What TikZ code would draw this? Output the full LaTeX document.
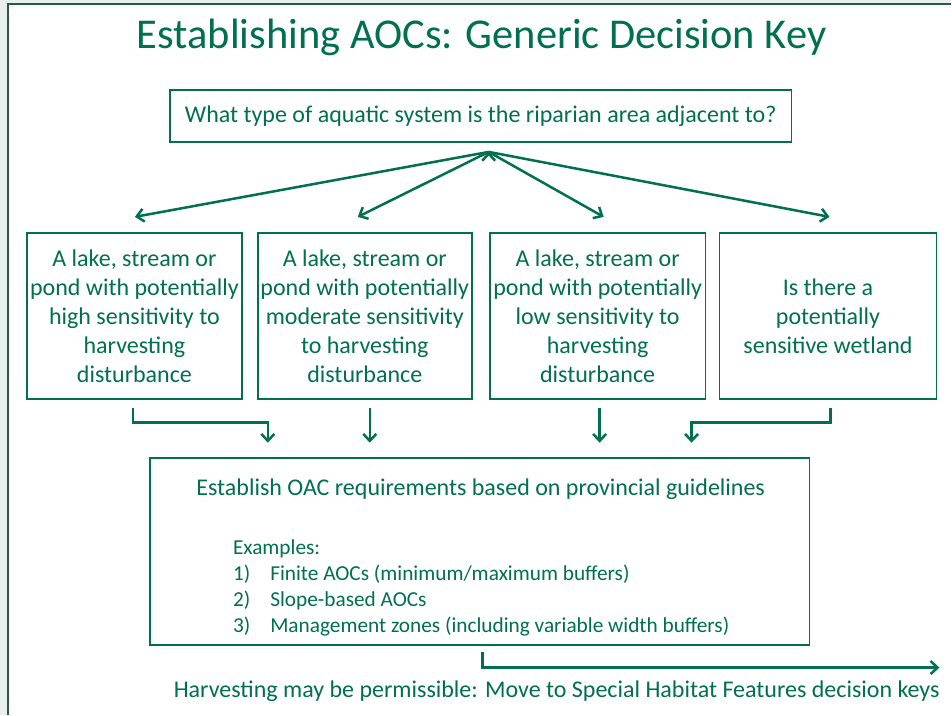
\documentclass[tikz,border=0pt]{standalone}
\usepackage{fontspec}
\setmainfont{Carlito}
\usetikzlibrary{arrows.meta}
\definecolor{aocgreen}{RGB}{0,112,80}
\definecolor{slidegrey}{RGB}{233,239,236}
\definecolor{framegreen}{RGB}{40,90,70}

\begin{document}
\begin{tikzpicture}[x=1pt,y=-1pt,
    box/.style={draw=aocgreen,line width=1.8pt,text=aocgreen,align=center,inner sep=0pt},
    choice/.style={box,minimum width=215pt,minimum height=166pt,font=\fontsize{24}{29}\selectfont},
    label/.style={text=aocgreen,inner sep=0pt},
    flow/.style={->,aocgreen,line width=2.5pt},
    >={Straight Barb[length=7pt,width=13pt]}]
  % slide background
  \fill[slidegrey] (0,0) rectangle (952,715);
  \fill[white] (8,4) rectangle (952,715);
  \draw[framegreen,line width=1.2pt] (8,715) -- (8,4) -- (952,4);
  \useasboundingbox (0,0) rectangle (952,715);

  \node[label,font=\fontsize{42.5}{50}\selectfont] (title) at (482,37) {Establishing AOCs: Generic Decision Key};

  \node[box,minimum width=622pt,minimum height=52pt,font=\fontsize{24}{28}\selectfont] (question) at (481,116) {What type of aquatic system is the riparian area adjacent to?};

  \node[choice] (high)    at (134.5,316) {A lake, stream or\\pond with potentially\\high sensitivity to\\harvesting\\disturbance};
  \node[choice,minimum width=214pt] (moderate) at (365,316) {A lake, stream or\\pond with potentially\\moderate sensitivity\\to harvesting\\disturbance};
  \node[choice,minimum width=216pt] (low)      at (598,316) {A lake, stream or\\pond with potentially\\low sensitivity to\\harvesting\\disturbance};
  \node[choice,minimum width=217pt] (wetland)  at (828.5,316) {Is there a\\potentially\\sensitive wetland};

  \node[box,minimum width=660pt,minimum height=187pt] (aoc) at (480,551.5) {};
  \node[label,font=\fontsize{24}{28}\selectfont] (aochead) at (481,490) {Establish OAC requirements based on provincial guidelines};
  \node[label,anchor=north west,align=left,font=\fontsize{21.3}{25.8}\selectfont] (aocex) at (233,540)
    {Examples:\\
     1)\hspace{20pt}Finite AOCs (minimum/maximum buffers)\\
     2)\hspace{20pt}Slope-based AOCs\\
     3)\hspace{20pt}Management zones (including variable width buffers)};

  \node[label,font=\fontsize{24}{28}\selectfont] (harvest) at (557,692) {Harvesting may be permissible: Move to Special Habitat Features decision keys};

  % fan of arrows from the question
  \coordinate (fan) at (489,152);
  \draw[flow]
        (fan) edge (135,217)
        (fan) edge (358,217)
        (fan) edge (604,217)
        (fan) edge (830,217);

  % arrows into the AOC box
  \coordinate (highout)     at (133,408);
  \coordinate (moderateout) at (370,408);
  \coordinate (lowout)      at (600,408);
  \coordinate (wetlandout)  at (831,408);
  \coordinate (aocin1) at (268,443);
  \coordinate (aocin2) at (370,443);
  \coordinate (aocin3) at (600,443);
  \coordinate (aocin4) at (692,443);
  \draw[flow] (highout) -- ++(0,15) -| (aocin1);
  \draw[flow] (moderateout) -- (aocin2);
  \draw[flow] (lowout) -- (aocin3);
  \draw[flow] (wetlandout) -- ++(0,15) -| (aocin4);

  % way out
  \coordinate (aocout) at (483,652);
  \coordinate (next) at (940,668);
  \draw[flow] (aocout) |- (next);
\end{tikzpicture}
\end{document}
